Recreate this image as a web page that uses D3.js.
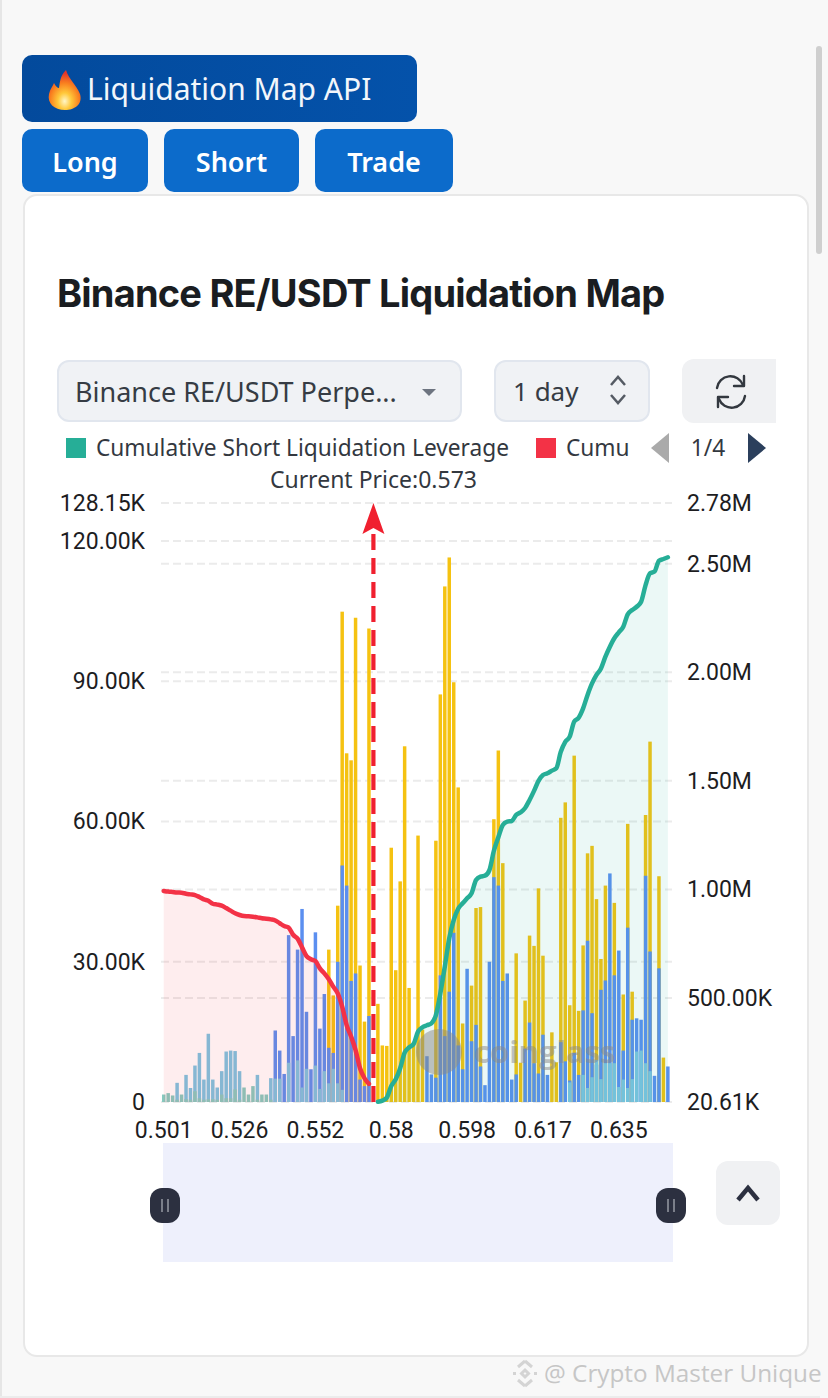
<!DOCTYPE html>
<html>
<head>
<meta charset="utf-8">
<script src="https://cdn.jsdelivr.net/npm/d3@7"></script>
<style>
    html, body { margin: 0; padding: 0; background: #f8f8f8; overflow: hidden; }
    body { width: 828px; height: 1398px; position: relative; font-family: "Noto Sans", sans-serif; color: #1f2329; }
    .box { position: absolute; box-sizing: border-box; }
    .btn { background: #0c6bcb; color: #fff; border-radius: 10px; font-weight: 600; font-size: 27px; display: flex; align-items: center; justify-content: center; padding-top: 2px; }
    .ctl { background: #f0f2f5; border-radius: 12px; border: 2px solid #e1e6ee; display: flex; align-items: center; font-size: 26px; color: #363c44; }
    svg { position: absolute; left: 0; top: 0; }
</style>
</head>
<body>
<div class="box" style="left:0;top:0;width:2px;height:1398px;background:#e6e6e6"></div>
<div class="box" style="left:816px;top:46px;width:6px;height:208px;background:#cfcfcf;border-radius:3px"></div>
<div class="box" style="left:0;top:1396px;width:820px;height:2px;background:#ececec"></div>

<div class="box" style="left:22px;top:55px;width:395px;height:67px;border-radius:10px;background:linear-gradient(90deg,#034a9c,#0452aa);color:#f2f6fb;font-size:30px;display:flex;align-items:center;padding-left:65px">Liquidation Map API</div>
<div class="box btn" style="left:22px;top:129px;width:126px;height:63px">Long</div>
<div class="box btn" style="left:164px;top:129px;width:135px;height:63px">Short</div>
<div class="box btn" style="left:315px;top:129px;width:138px;height:63px">Trade</div>

<div class="box" style="left:23px;top:194px;width:786px;height:1163px;background:#fff;border:2px solid #e8e8e8;border-radius:14px"></div>
<div class="box" style="left:57px;top:270px;font-family:Inter,sans-serif;font-weight:700;font-size:38px;letter-spacing:-0.8px;color:#1a1d21;white-space:nowrap">Binance RE/USDT Liquidation Map</div>

<div class="box ctl" style="left:57px;top:360px;width:405px;height:62px;padding-left:16px;font-size:27px;white-space:nowrap">Binance RE/USDT Perpe...</div>
<div class="box ctl" style="left:494px;top:360px;width:156px;height:62px;padding-left:17px">1 day</div>
<div class="box" style="left:682px;top:359px;width:94px;height:64px;background:#f0f1f3;border-radius:12px 0 0 12px"></div>
<div class="box" style="left:716px;top:1161px;width:64px;height:64px;background:#f0f1f3;border-radius:12px"></div>

<script>
// Tick labels
const xTickIndex = [0, 17, 34, 51, 68, 85, 102];
const xTickLabels = ["0.501", "0.526", "0.552", "0.58", "0.598", "0.617", "0.635"];
const leftTicks = [0, 30, 60, 90, 120, 128.15];
const leftTickLabels = ["0", "30.00K", "60.00K", "90.00K", "120.00K", "128.15K"];
const rightTicks = [20.61, 500, 1000, 1500, 2000, 2500, 2780];
const rightTickLabels = ["20.61K", "500.00K", "1.00M", "1.50M", "2.00M", "2.50M", "2.78M"];
const currentPriceIndex = 47;

// Bar tops per price level, in thousands
const tealTop = [1.6,1.9,1.4,0.5,1.6,0.6,0.5,2.3,0.8,0.5,0.6,0.6,0.5,1.6,0.8,0.8,2.7,0.5,3.1,1.6,3.4,0.5,1.6,1.6,0.5];
const lightTop = [0,0,0,4.1,0,5.8,3.0,7.8,10.5,4.8,14.6,4.8,3.1,6.6,10.8,11.0,10.9,6.6,0,0,0,5.8,0,0,5.1,5.0,5.0,0,8.4,0,8.9,3.1,7.1,0,7.8,2.8,6.6,4.0,7.1,4.0,2.6,
    0,0,0,0,0,0,0,0,0,0,0,0,0,0,0,0,0,0,0,0,0,0,0,0,0,0,0,0,0,0,0,0,0,0,0,0,0,0,0,0,0,0,0,0,0,0,0,0,0,0,
    4.2,0,0,5.8,3.0,5.3,9.0,4.9,8.3,8.3,8.3,3.2,4.8,3.0,4.9,10.8,11.0,8.3,6.6,0,0,0,0,0];
const blueTop = [0,0,0,0,0,0,0,0,0,0,0,0,0,0,0,0,0,0,0,0,0,0,0,0,0,
    15.3,11.0,6.0,35.7,14.1,32.6,41.3,19.3,7.0,36.3,15.7,23.1,11.6,10.5,30.0,50.6,46.3,25.9,27.5,4.8,3.4,18.4,0,
    0,0,0,0,0,0,0,0,0,0,0,9.8,5.9,5.2,27.1,14.1,23.6,36.2,12.1,7.0,28.5,13.0,16.5,7.6,3.6,30.0,48.1,46.3,25.9,27.5,4.8,5.9,0,
    11.4,17.0,8.3,6.1,14.4,5.8,0,0,12.8,8.7,4.6,10.5,5.8,19.6,34.5,19.0,8.0,24.0,26.0,48.9,27.1,32.4,11.0,37.3,17.6,17.9,17.6,48.4,32.2,5.6,28.6,0,7.6];
const yellowTop = [0,0,0,0,0,0,0,0,0,0,0,0,0,0,0,0,0,0,0,0,0,0,0,0,0,0,0,0,0,0,0,0,0,0,0,0,0,
    32.6,22.8,42.0,104.9,74.6,73.1,103.6,29.2,17.2,101.3,0,
    21.0,12.1,12.0,54.4,28.2,47.2,76.1,24.4,12.7,57.0,15.5,0,0,55.9,87.2,110.3,116.5,89.8,67.3,16.8,0,24.9,41.5,41.7,0,0,60.5,75.2,51.1,0,0,31.8,8.4,
    21.7,35.6,33.4,45.7,31.3,0,14.9,8.5,60.8,64.1,20.7,74.1,19.5,33.5,53.2,54.8,43.4,30.6,46.3,0,42.6,0,23.0,59.5,23.6,0,0,61.4,77.1,0,48.3,9.5,0];

// Cumulative curves, in thousands
const cumLong = [993,990,988,986,985,980,977,974,965,954,948,934,930,925,914,902,890,882,877,876,874,871,867,865,862,857,844,831,824,791,773,733,693,678,670,636,613,586,552,521,460,375,322,260,176,130,104];
const cumShortStart = 48;
const cumShort = [22,27,41,94,125,176,248,272,288,345,365,374,383,421,521,644,775,859,911,936,959,982,1043,1059,1063,1089,1178,1240,1297,1312,1315,1343,1355,1375,1412,1454,1500,1527,1535,1547,1558,1634,1680,1704,1773,1791,1834,1896,1949,1988,2018,2072,2118,2157,2184,2210,2267,2287,2302,2325,2402,2456,2464,2514,2522,2530];

const colors = { teal: "#86cbc0", light: "#7cc4e2", blue: "#5b8ff0", yellow: "#f5c211", green: "#26ae97", red: "#f33246" };
const axisFont = "Roboto, sans-serif";

const svg = d3.select("body").append("svg").attr("width", 828).attr("height", 1398);

// Scales
const x = d3.scaleBand().domain(d3.range(yellowTop.length)).range([161, 670.6]).padding(0.22);
const xc = i => x(i) + x.bandwidth() / 2;
const yLeft = d3.scaleLinear().domain([0, 128.15]).range([1102, 503]);
const yRight = d3.scaleLinear().domain([20.61, 2780]).range([1102, 503]);

// Axes and grid
function styleAxis(g) {
    g.select(".domain").remove();
    g.selectAll("text").attr("font-family", axisFont).attr("font-size", 23).attr("fill", "#1d1d1f");
}
svg.append("g").attr("transform", "translate(161,0)")
    .call(d3.axisLeft(yLeft).tickValues(leftTicks).tickFormat((d, i) => leftTickLabels[i]).tickSize(0).tickPadding(16))
    .call(styleAxis);
svg.append("g").attr("transform", "translate(671,0)")
    .call(d3.axisRight(yRight).tickValues(rightTicks).tickFormat((d, i) => rightTickLabels[i]).tickSize(0).tickPadding(16))
    .call(styleAxis);
const axB = svg.append("g").attr("transform", "translate(0,1109)")
    .call(d3.axisBottom(x).tickValues(xTickIndex).tickFormat((d, i) => xTickLabels[i]).tickSize(0).tickPadding(6))
    .call(styleAxis);
axB.selectAll("text").attr("dy", "1em");

const gridL = svg.append("g").selectAll("line").data(leftTicks).enter().append("line")
    .attr("y1", d => yLeft(d)).attr("y2", d => yLeft(d));
const gridR = svg.append("g").selectAll("line").data(rightTicks.slice(1)).enter().append("line")
    .attr("y1", d => yRight(d)).attr("y2", d => yRight(d));
[gridL, gridR].forEach(g => g.attr("x1", 161).attr("x2", 672)
    .attr("stroke", "#ebebeb").attr("stroke-width", 2).attr("stroke-dasharray", "8 4"));

// Bars, back to front
[[yellowTop, colors.yellow], [blueTop, colors.blue], [lightTop, colors.light], [tealTop, colors.teal]].forEach(([vals, color]) => {
    svg.append("g").selectAll("rect")
        .data(vals.map((v, i) => ({ v, i })).filter(d => d.v > 0))
        .enter().append("rect")
        .attr("x", d => x(d.i))
        .attr("width", x.bandwidth())
        .attr("y", d => yLeft(d.v))
        .attr("height", d => yLeft(0) - yLeft(d.v))
        .attr("fill", color);
});

// Cumulative areas and lines
function drawCum(values, start, color) {
    const pts = values.map((v, i) => ({ i: i + start, v }));
    const area = d3.area().x(d => xc(d.i)).y0(yRight(20.61)).y1(d => yRight(d.v)).curve(d3.curveMonotoneX);
    const line = d3.line().x(d => xc(d.i)).y(d => yRight(d.v)).curve(d3.curveMonotoneX);
    svg.append("path").attr("d", area(pts)).attr("fill", color).attr("opacity", 0.09);
    svg.append("path").attr("d", line(pts)).attr("fill", "none").attr("stroke", color).attr("stroke-width", 4.5).attr("stroke-linecap", "round");
}
drawCum(cumLong, 0, colors.red);
drawCum(cumShort, cumShortStart, colors.green);

// Current price marker
const cx = xc(currentPriceIndex);
svg.append("line").attr("x1", cx).attr("x2", cx).attr("y1", 534).attr("y2", 1102)
    .attr("stroke", "#f0202f").attr("stroke-width", 4.2).attr("stroke-dasharray", "16 8");
svg.append("path").attr("d", `M${cx},503 L${cx + 11},534 L${cx},528 L${cx - 11},534 Z`).attr("fill", "#f0202f");
svg.append("text").attr("x", cx).attr("y", 488).attr("text-anchor", "middle")
    .attr("font-family", "'Noto Sans', sans-serif").attr("font-size", 23).attr("fill", "#33383f").text("Current Price:0.573");

// Coinglass watermark
const wm = svg.append("g").attr("fill", "#8a8a8a").attr("opacity", 0.5);
wm.append("circle").attr("cx", 439).attr("cy", 1052).attr("r", 23);
wm.append("text").attr("x", 474).attr("y", 1063).attr("font-family", "'Open Sans', sans-serif")
    .attr("font-weight", 700).attr("font-size", 31).text("coinglass");

// Legend
svg.append("rect").attr("x", 66).attr("y", 438).attr("width", 20).attr("height", 20).attr("fill", colors.green);
svg.append("text").attr("x", 96).attr("y", 456).attr("font-family", "'Noto Sans', sans-serif").attr("font-size", 22.7)
    .attr("fill", "#33383f").text("Cumulative Short Liquidation Leverage");
svg.append("rect").attr("x", 536).attr("y", 438).attr("width", 20).attr("height", 20).attr("fill", colors.red);
svg.append("text").attr("x", 566).attr("y", 456).attr("font-family", "'Noto Sans', sans-serif")
    .attr("font-size", 22.7).attr("fill", "#33383f").text("Cumu");
svg.append("path").attr("d", "M669,433 L651,448 L669,463 Z").attr("fill", "#aaaaaa");
svg.append("path").attr("d", "M748,433 L766,448 L748,463 Z").attr("fill", "#2b3f5c");
svg.append("text").attr("x", 708).attr("y", 456).attr("text-anchor", "middle").attr("font-family", "'Noto Sans', sans-serif")
    .attr("font-size", 22.7).attr("fill", "#33383f").text("1/4");

// Select and stepper glyphs
svg.append("path").attr("d", "M422,389 L436,389 L429,396 Z").attr("fill", "#6d7480");
svg.append("path").attr("d", "M611,385 L618,377 L625,385 M611,395 L618,403 L625,395").attr("fill", "none").attr("stroke", "#555b64").attr("stroke-width", 2.5);

// Refresh icon
const refresh = svg.append("g").attr("fill", "none").attr("stroke", "#33383f").attr("stroke-width", 2.4).attr("stroke-linecap", "round").attr("stroke-linejoin", "round");
refresh.append("path").attr("d", "M717,388 A13.5,13.5 0 0 1 743,385 M745,396 A13.5,13.5 0 0 1 719,399");
refresh.append("path").attr("d", "M744,376 L744,386 L734,386 M718,407 L718,397 L728,397");

// Range slider
svg.append("rect").attr("x", 163).attr("y", 1143).attr("width", 510).attr("height", 119).attr("fill", "#eef0fc");
[165, 671].forEach(hx => {
    svg.append("rect").attr("x", hx - 15).attr("y", 1188).attr("width", 30).attr("height", 35).attr("rx", 12).attr("fill", "#2c3040");
    [-3, 3].forEach(o => svg.append("rect").attr("x", hx + o - 1).attr("y", 1199).attr("width", 2).attr("height", 13).attr("fill", "#7b7f8a"));
});
svg.append("path").attr("d", "M738,1200 L748,1188 L758,1200").attr("fill", "none").attr("stroke", "#2c3040").attr("stroke-width", 4.5);

// Flame icon in the header button
const defs = svg.append("defs");
const grad = defs.append("radialGradient").attr("id", "flame").attr("cx", "50%").attr("cy", "78%").attr("r", "70%");
[[0, "#fff6c8"], [0.3, "#ffc83a"], [0.65, "#f9801f"], [1, "#e2352a"]].forEach(([o, c]) => grad.append("stop").attr("offset", o).attr("stop-color", c));
svg.append("path").attr("d", "M66,70 C69,80 76,84 80,94 C83,104 75,110 65,110 C54,110 47,103 49,94 C50,89 53,86 54,83 C56,87 58,88 59,88 C60,82 60,76 66,70 Z").attr("fill", "url(#flame)");

// Footer watermark
const bn = svg.append("g").attr("fill", "none").attr("stroke", "#d4d4d4").attr("stroke-width", 3);
bn.append("path").attr("d", "M525,1361 L532,1367 M525,1361 L518,1367 M525,1386 L532,1380 M525,1386 L518,1380 M513,1373.5 L516,1373.5 M534,1373.5 L537,1373.5 M525,1370 L528.5,1373.5 L525,1377 L521.5,1373.5 Z");
svg.append("text").attr("x", 544).attr("y", 1382).attr("font-family", "'Open Sans', sans-serif").attr("font-size", 24.3)
    .attr("fill", "#c6c6c6").text("@ Crypto Master Unique");
</script>
</body>
</html>
